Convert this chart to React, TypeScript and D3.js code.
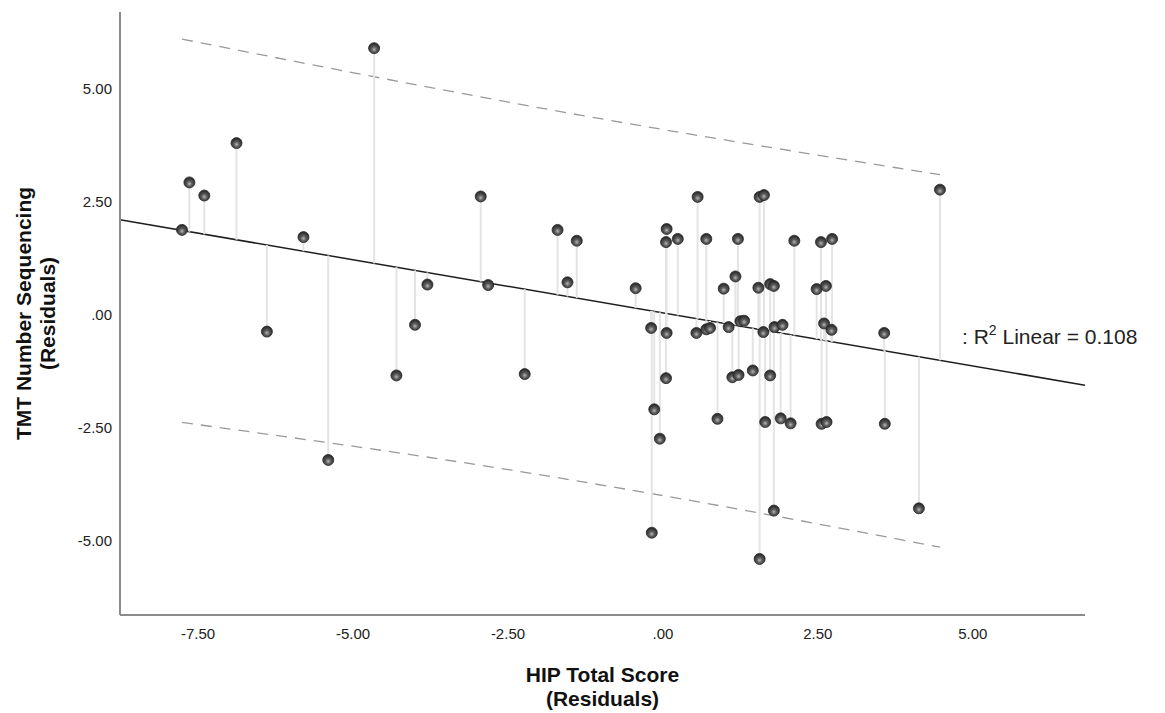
import React, { useRef, useEffect } from 'react';
import * as d3 from 'd3';

// residual pairs (x = HIP, y = TMT)
const hipResiduals = [
  -7.76, -7.64, -7.40, -6.88, -6.39, -5.80, -5.40, -4.66, -4.30, -4.00,
  -3.80, -2.94, -2.82, -2.23, -1.70, -1.54, -1.39, -0.44, -0.19, -0.18,
  -0.14, -0.05, 0.06, 0.05, 0.06, 0.05, 0.24, 0.56, 0.54, 0.70,
  0.70, 0.76, 0.88, 0.98, 1.06, 1.12, 1.17, 1.21, 1.22, 1.25,
  1.31, 1.45, 1.56, 1.63, 1.54, 1.56, 1.62, 1.65, 1.73, 1.79,
  1.73, 1.80, 1.79, 1.93, 1.90, 2.06, 2.12, 2.48, 2.55, 2.73,
  2.63, 2.60, 2.72, 2.56, 2.64, 3.57, 3.58, 4.13, 4.47
];
const tmtResiduals = [
  1.88, 2.93, 2.64, 3.80, -0.37, 1.72, -3.21, 5.90, -1.34, -0.22,
  0.67, 2.62, 0.66, -1.31, 1.88, 0.72, 1.64, 0.59, -0.29, -4.82,
  -2.09, -2.74, 1.90, 1.61, -0.40, -1.40, 1.68, 2.61, -0.40, 1.68,
  -0.32, -0.29, -2.30, 0.58, -0.27, -1.38, 0.85, 1.68, -1.33, -0.14,
  -0.13, -1.23, 2.61, 2.65, 0.60, -5.40, -0.38, -2.37, 0.68, 0.64,
  -1.34, -0.27, -4.33, -0.22, -2.29, -2.40, 1.64, 0.57, 1.61, 1.68,
  0.64, -0.19, -0.33, -2.41, -2.37, -0.40, -2.41, -4.28, 2.77
];

const xTicks = [-7.5, -5, -2.5, 0, 2.5, 5];
const yTicks = [5, 2.5, 0, -2.5, -5];
const xDomain = [-8.76, 6.81];
const yDomain = [-6.64, 6.70];

// linear fit and 95% prediction band as drawn
const fitIntercept = 0.044;
const fitSlope = -0.235;
const upperBandX = [-7.76, -1.34, 4.47];
const upperBandY = [6.10, 4.42, 3.10];
const lowerBandX = [-7.76, -2.47, -0.37, 4.47];
const lowerBandY = [-2.38, -3.43, -3.91, -5.14];
const rSquared = '0.108';

const FONT = '"Liberation Sans", Arial, sans-serif';

export default function App() {
  const svgRef = useRef<SVGSVGElement>(null);
  const width = 1165;
  const height = 713;
  const plot = { left: 120, right: 1085, top: 12, bottom: 615 };

  useEffect(() => {
    if (!svgRef.current) return;
    const svg = d3.select(svgRef.current);
    svg.selectAll('*').remove();

    const x = d3.scaleLinear().domain(xDomain).range([plot.left, plot.right]);
    const y = d3.scaleLinear().domain(yDomain).range([plot.bottom, plot.top]);
    const fit = (v: number) => fitIntercept + fitSlope * v;

    svg.append('rect').attr('width', width).attr('height', height).attr('fill', '#fff');

    // marker shading
    const grad = svg.append('defs').append('radialGradient')
      .attr('id', 'dot-grad')
      .attr('cx', '50%').attr('cy', '62%').attr('r', '55%');
    grad.append('stop').attr('offset', '0%').attr('stop-color', '#b5b5b5');
    grad.append('stop').attr('offset', '45%').attr('stop-color', '#5a5a5a');
    grad.append('stop').attr('offset', '100%').attr('stop-color', '#2b2b2b');

    svg.append('clipPath').attr('id', 'plot-clip')
      .append('rect')
      .attr('x', plot.left).attr('y', plot.top)
      .attr('width', plot.right - plot.left).attr('height', plot.bottom - plot.top);

    const g = svg.append('g').attr('clip-path', 'url(#plot-clip)');

    // prediction band
    const band = d3.line<[number, number]>()
      .x(d => x(d[0]))
      .y(d => y(d[1]))
      .curve(d3.curveMonotoneX);
    [
      upperBandX.map((v, i) => [v, upperBandY[i]] as [number, number]),
      lowerBandX.map((v, i) => [v, lowerBandY[i]] as [number, number])
    ].forEach(pts => {
      g.append('path')
        .attr('d', band(pts))
        .attr('fill', 'none')
        .attr('stroke', '#9a9a9a')
        .attr('stroke-width', 1.3)
        .attr('stroke-dasharray', '11,8');
    });

    // fit line
    g.append('line')
      .attr('x1', x(xDomain[0])).attr('y1', y(fit(xDomain[0])))
      .attr('x2', x(xDomain[1])).attr('y2', y(fit(xDomain[1])))
      .attr('stroke', '#1e1e1e')
      .attr('stroke-width', 1.5);

    const pts = hipResiduals.map((v, i) => ({ hip: v, tmt: tmtResiduals[i] }));

    // residual drop lines
    g.selectAll('.resid')
      .data(pts)
      .enter()
      .append('line')
      .attr('class', 'resid')
      .attr('x1', d => x(d.hip)).attr('x2', d => x(d.hip))
      .attr('y1', d => y(d.tmt)).attr('y2', d => y(fit(d.hip)))
      .attr('stroke', '#e4e4e4')
      .attr('stroke-width', 2);

    g.selectAll('.dot')
      .data(pts)
      .enter()
      .append('circle')
      .attr('class', 'dot')
      .attr('cx', d => x(d.hip))
      .attr('cy', d => y(d.tmt))
      .attr('r', 5.5)
      .attr('fill', 'url(#dot-grad)')
      .attr('stroke', '#262626')
      .attr('stroke-width', 0.8);

    // axes (lines only, no tick marks)
    svg.append('line')
      .attr('x1', plot.left).attr('x2', plot.left)
      .attr('y1', plot.top).attr('y2', plot.bottom)
      .attr('stroke', '#8c8c8c').attr('stroke-width', 2);
    svg.append('line')
      .attr('x1', plot.left).attr('x2', plot.right)
      .attr('y1', plot.bottom).attr('y2', plot.bottom)
      .attr('stroke', '#8c8c8c').attr('stroke-width', 2);

    const fmt = (v: number) => (v === 0 ? '.00' : v.toFixed(2));

    svg.selectAll('.xtick')
      .data(xTicks)
      .enter()
      .append('text')
      .attr('class', 'xtick')
      .attr('x', d => x(d))
      .attr('y', 639)
      .attr('text-anchor', 'middle')
      .attr('font-family', FONT)
      .attr('font-size', 15)
      .attr('fill', '#222')
      .text(fmt);

    svg.selectAll('.ytick')
      .data(yTicks)
      .enter()
      .append('text')
      .attr('class', 'ytick')
      .attr('x', 112)
      .attr('y', d => y(d) + 5)
      .attr('text-anchor', 'end')
      .attr('font-family', FONT)
      .attr('font-size', 15)
      .attr('fill', '#222')
      .text(fmt);

    // axis titles
    const xMid = (plot.left + plot.right) / 2;
    svg.append('text')
      .attr('x', xMid).attr('y', 682)
      .attr('text-anchor', 'middle')
      .attr('font-family', FONT)
      .attr('font-size', 21)
      .attr('font-weight', 'bold')
      .attr('fill', '#111')
      .text('HIP Total Score');
    svg.append('text')
      .attr('x', xMid).attr('y', 706)
      .attr('text-anchor', 'middle')
      .attr('font-family', FONT)
      .attr('font-size', 21)
      .attr('font-weight', 'bold')
      .attr('fill', '#111')
      .text('(Residuals)');

    const yMid = (plot.top + plot.bottom) / 2;
    [['TMT Number Sequencing', 31], ['(Residuals)', 55]].forEach(([label, bx]) => {
      svg.append('text')
        .attr('transform', `translate(${bx}, ${yMid}) rotate(-90)`)
        .attr('text-anchor', 'middle')
        .attr('font-family', FONT)
        .attr('font-size', 21)
        .attr('font-weight', 'bold')
        .attr('fill', '#111')
        .text(label as string);
    });

    // fit annotation
    const note = svg.append('text')
      .attr('x', 962)
      .attr('y', 344)
      .attr('font-family', FONT)
      .attr('font-size', 21)
      .attr('fill', '#222');
    note.append('tspan').text(': R');
    note.append('tspan').attr('font-size', 14).attr('dy', -9).text('2');
    note.append('tspan').attr('dy', 9).text(` Linear = ${rSquared}`);
  }, []);

  return (
    <svg
      ref={svgRef}
      width={width}
      height={height}
      style={{ position: 'absolute', left: 0, top: 0, display: 'block' }}
    />
  );
}
